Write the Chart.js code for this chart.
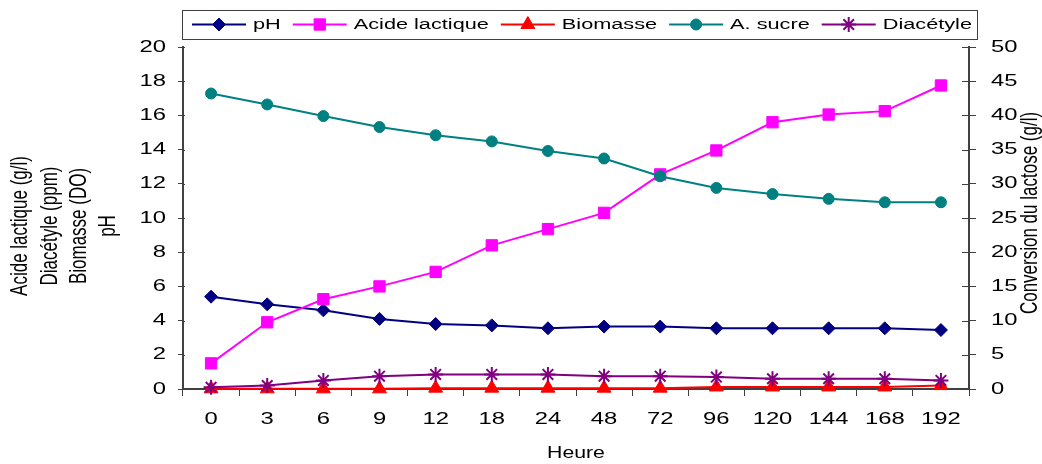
<!DOCTYPE html>
<html>
<head>
<meta charset="utf-8">
<script src="https://cdn.jsdelivr.net/npm/chart.js@4/dist/chart.umd.min.js"></script>
<style>
  html, body { margin: 0; padding: 0; background: #fff; }
  #wrap { width: 1042px; height: 464px; position: relative; }
</style>
</head>
<body>
<div id="wrap"><canvas id="c" width="1042" height="464"></canvas></div>
<script>
// Fermentation follow-up: time points (hours)
const heures = ['0', '3', '6', '9', '12', '18', '24', '48', '72', '96', '120', '144', '168', '192'];

// Left axis series
const pH            = [5.4, 4.95, 4.6, 4.1, 3.8, 3.72, 3.55, 3.65, 3.65, 3.55, 3.55, 3.55, 3.55, 3.45];
const acideLactique = [1.5, 3.9, 5.25, 6.0, 6.85, 8.4, 9.35, 10.3, 12.55, 13.95, 15.6, 16.05, 16.25, 17.75];
const biomasse      = [0.01, 0.01, 0.01, 0.01, 0.05, 0.05, 0.05, 0.05, 0.05, 0.12, 0.12, 0.12, 0.12, 0.2];
const diacetyle     = [0.1, 0.2, 0.5, 0.75, 0.85, 0.85, 0.85, 0.75, 0.75, 0.7, 0.6, 0.6, 0.6, 0.5];

// Right axis series (g/l)
const aSucre        = [43.2, 41.6, 39.9, 38.3, 37.1, 36.2, 34.8, 33.7, 31.1, 29.4, 28.5, 27.8, 27.3, 27.3];

// Axis ranges and titles
const leftRange  = { min: 0, max: 20, step: 2 };
const rightRange = { min: 0, max: 50, step: 5 };
const leftTitle  = ['Acide lactique (g/l)', 'Diacétyle (ppm)', 'Biomasse (DO)', 'pH'];
const rightTitle = 'Conversion du lactose (g/l)';
const xTitle     = 'Heure';

const FONT = '"Liberation Sans", Arial, Helvetica, sans-serif';
const TEXT_SX = 1.4;      // horizontally widened lettering
const AXIS_COLOR = '#404040';

function drawText(ctx, text, x, y, size, opts = {}) {
  ctx.save();
  ctx.translate(x, y);
  ctx.scale(opts.sx ?? TEXT_SX, 1);
  if (opts.rotate) ctx.rotate(opts.rotate);
  ctx.font = size + 'px ' + FONT;
  ctx.fillStyle = opts.color || '#000';
  ctx.textAlign = opts.align || 'center';
  ctx.textBaseline = opts.baseline || 'middle';
  ctx.fillText(text, 0, 0);
  ctx.restore();
}

function textWidth(ctx, text, size, sx = TEXT_SX) {
  ctx.save();
  ctx.font = size + 'px ' + FONT;
  const w = ctx.measureText(text).width * sx;
  ctx.restore();
  return w;
}

// Tick labels, axis titles, inner tick marks and the boxed legend
const decorations = {
  id: 'decorations',
  afterDraw(chart) {
    const ctx = chart.ctx;
    const { x, y, y2 } = chart.scales;

    // inner parts of the axis tick marks
    ctx.save();
    ctx.strokeStyle = AXIS_COLOR;
    ctx.lineWidth = 1;
    y2.ticks.forEach(t => {
      const py = Math.round(y2.getPixelForValue(t.value)) + 0.5;
      ctx.beginPath();
      ctx.moveTo(y2.left - 7, py);
      ctx.lineTo(y2.left, py);
      ctx.stroke();
    });
    y.ticks.forEach(t => {
      const py = Math.round(y.getPixelForValue(t.value)) + 0.5;
      ctx.beginPath();
      ctx.moveTo(y.right, py);
      ctx.lineTo(y.right + 2, py);
      ctx.stroke();
    });
    ctx.restore();

    // tick labels
    y.ticks.forEach(t => drawText(ctx, t.label, 166, y.getPixelForValue(t.value), 17, { align: 'right' }));
    y2.ticks.forEach(t => drawText(ctx, t.label, 991, y2.getPixelForValue(t.value), 17, { align: 'left' }));
    x.ticks.forEach((t, i) => drawText(ctx, heures[i], x.getPixelForTick(i), 419, 17));

    // axis titles
    const midY = 226;
    const lineX = [20, 50, 79, 108];
    leftTitle.forEach((line, i) => drawText(ctx, line, lineX[i], midY, 17, { rotate: -Math.PI / 2 }));
    drawText(ctx, rightTitle, 1030, 213, 17, { rotate: -Math.PI / 2 });
    drawText(ctx, xTitle, (x.left + x.right) / 2, 453, 17, { sx: 1.25 });

    // legend
    const boxL = 182.5, boxT = 10.5, boxR = 977.5, boxB = 39.5;
    ctx.save();
    ctx.strokeStyle = AXIS_COLOR;
    ctx.lineWidth = 1;
    ctx.strokeRect(boxL, boxT, boxR - boxL, boxB - boxT);
    ctx.restore();

    const ly = 24.5;
    const lineLen = 54, toText = 7, gap = 12, lsize = 15.5;
    let lx = 192;
    chart.data.datasets.forEach(ds => {
      ctx.save();
      ctx.strokeStyle = ds.borderColor;
      ctx.lineWidth = 2;
      ctx.beginPath();
      ctx.moveTo(lx, ly);
      ctx.lineTo(lx + lineLen, ly);
      ctx.stroke();
      ctx.fillStyle = ds.pointBackgroundColor;
      ctx.strokeStyle = ds.pointBorderColor;
      ctx.lineWidth = ds.pointBorderWidth;
      Chart.helpers.drawPoint(ctx, {
        pointStyle: ds.pointStyle,
        radius: ds.pointRadius,
        rotation: 0,
        borderWidth: ds.pointBorderWidth
      }, lx + lineLen / 2, ly);
      ctx.restore();
      const tx = lx + lineLen + toText;
      drawText(ctx, ds.label, tx, ly, lsize, { align: 'left' });
      lx = tx + textWidth(ctx, ds.label, lsize) + gap;
    });
  }
};

function series(label, data, color, style, radius, axis, order, borderW = 1) {
  return {
    label, data,
    yAxisID: axis,
    order,
    borderColor: color,
    backgroundColor: color,
    borderWidth: 2,
    tension: 0,
    pointStyle: style,
    pointRadius: radius,
    pointHoverRadius: radius,
    pointBackgroundColor: color,
    pointBorderColor: color,
    pointBorderWidth: borderW,
    clip: false
  };
}

new Chart(document.getElementById('c'), {
  type: 'line',
  data: {
    labels: heures,
    datasets: [
      series('pH', pH, '#000080', 'rectRot', 6.5, 'y', 5),
      series('Acide lactique', acideLactique, '#FF00FF', 'rect', 8, 'y', 4),
      series('Biomasse', biomasse, '#FF0000', 'triangle', 8, 'y', 3),
      series('A. sucre', aSucre, '#008080', 'circle', 5.5, 'y2', 2),
      series('Diacétyle', diacetyle, '#800080', 'star', 7.5, 'y', 1, 2)
    ]
  },
  options: {
    responsive: false,
    animation: false,
    devicePixelRatio: 1,
    events: [],
    layout: { padding: { top: 47, left: 0, right: 0, bottom: 0 } },
    plugins: { legend: { display: false }, tooltip: { enabled: false } },
    scales: {
      x: {
        type: 'category',
        offset: true,
        ticks: { display: false },
        grid: { display: true, offset: true, drawOnChartArea: false, drawTicks: true, tickLength: 7, color: AXIS_COLOR, lineWidth: 1 },
        border: { display: true, color: AXIS_COLOR, width: 2 },
        afterFit(s) { s.height = 75; }
      },
      y: {
        position: 'left',
        min: leftRange.min, max: leftRange.max,
        ticks: { display: false, stepSize: leftRange.step },
        grid: { display: true, drawOnChartArea: false, drawTicks: true, tickLength: 5, color: AXIS_COLOR, lineWidth: 1 },
        border: { display: true, color: AXIS_COLOR, width: 2 },
        afterFit(s) { s.width = 183; }
      },
      y2: {
        position: 'right',
        min: rightRange.min, max: rightRange.max,
        ticks: { display: false, stepSize: rightRange.step },
        grid: { display: true, drawOnChartArea: false, drawTicks: true, tickLength: 7, color: AXIS_COLOR, lineWidth: 1 },
        border: { display: true, color: AXIS_COLOR, width: 2 },
        afterFit(s) { s.width = 73; }
      }
    }
  },
  plugins: [decorations]
});
</script>
</body>
</html>
